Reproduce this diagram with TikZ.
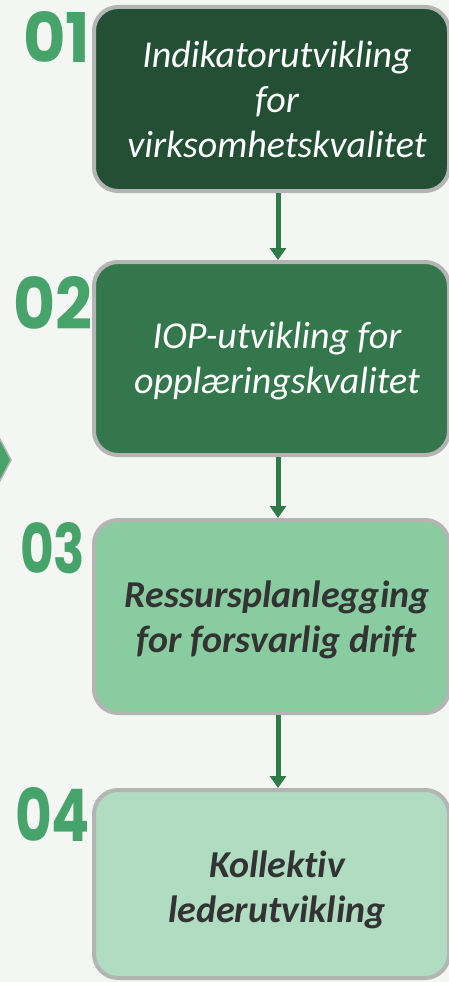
\documentclass[tikz,border=0pt]{standalone}
\usepackage{graphicx}
\usepackage{fontspec}
\setmainfont{Carlito}[Ligatures=NoCommon]
\newfontfamily\numfont{Poppins}
\usetikzlibrary{arrows.meta}
\definecolor{bgc}{HTML}{F4F6F3}
\definecolor{numgreen}{HTML}{46A36A}
\definecolor{c1}{HTML}{235035}
\definecolor{c2}{HTML}{34774C}
\definecolor{c3}{HTML}{88CCA0}
\definecolor{c4}{HTML}{B0DCC2}
\definecolor{bordergray}{HTML}{B4B4B4}
\definecolor{arrowgreen}{HTML}{2F7A4A}
\definecolor{darktext}{HTML}{333333}
\tikzset{
  stepbox/.style={draw=bordergray, line width=4pt, rounded corners=24pt,
    minimum width=355pt, inner sep=0pt},
  boxtext/.style={align=center, inner sep=0pt, anchor=base,
    font=\fontsize{38}{45}\selectfont\itshape},
  boldtext/.style={boxtext, text=darktext,
    font=\fontsize{38}{45}\selectfont\bfseries\itshape},
  numlabel/.style={inner sep=0pt, anchor=south west, text=numgreen},
  flowarrow/.style={draw=arrowgreen, line width=5pt,
    -{Triangle[width=16pt,length=12pt]}}
}
\begin{document}
\begin{tikzpicture}[x=1pt,y=-1pt]
\fill[bgc] (0,0) rectangle (449,982);
\useasboundingbox (0,0) rectangle (449,982);
% left chevron
\filldraw[fill=numgreen, draw=bordergray, line width=1.5pt] (-6,428) -- (11,460) -- (-6,492) -- cycle;
% boxes
\node[stepbox, fill=c1, minimum height=184pt] (b1) at (271.5,99) {};
\node[stepbox, fill=c2, minimum height=193pt] (b2) at (271.5,358.5) {};
\node[stepbox, fill=c3, minimum height=193pt] (b3) at (271.5,616.5) {};
\node[stepbox, fill=c4, minimum height=188pt] (b4) at (271.5,884) {};
% texts
\node[boxtext, text=white] (t1) at (277,157) {Indikatorutvikling\\for\\virksomhetskvalitet};
\node[boxtext, text=white] (t2) at (277,393) {IOP-utvikling for\\opplæringskvalitet};
\node[boldtext] (t3) at (277,652) {Ressursplanlegging\\for forsvarlig drift};
\node[boldtext] (t4) at (277,922) {Kollektiv\\lederutvikling};
% numbers
\node[numlabel] (n1) at (23,63) {\resizebox{67pt}{51pt}{\numfont\bfseries 01}};
\node[numlabel] (n2) at (13,330) {\resizebox{79pt}{53pt}{\numfont\bfseries 02}};
\node[numlabel] (n3) at (20,574) {\resizebox{65pt}{51pt}{\numfont\bfseries 03}};
\node[numlabel] (n4) at (15,842) {\resizebox{75pt}{54pt}{\numfont\bfseries 04}};
% arrows
\draw[flowarrow] ([xshift=6.5pt]b1.south) -- ([xshift=6.5pt]b2.north);
\draw[flowarrow] ([xshift=6.5pt]b2.south) -- ([xshift=6.5pt]b3.north);
\draw[flowarrow] ([xshift=6.5pt]b3.south) -- ([xshift=6.5pt]b4.north);
\end{tikzpicture}
\end{document}
